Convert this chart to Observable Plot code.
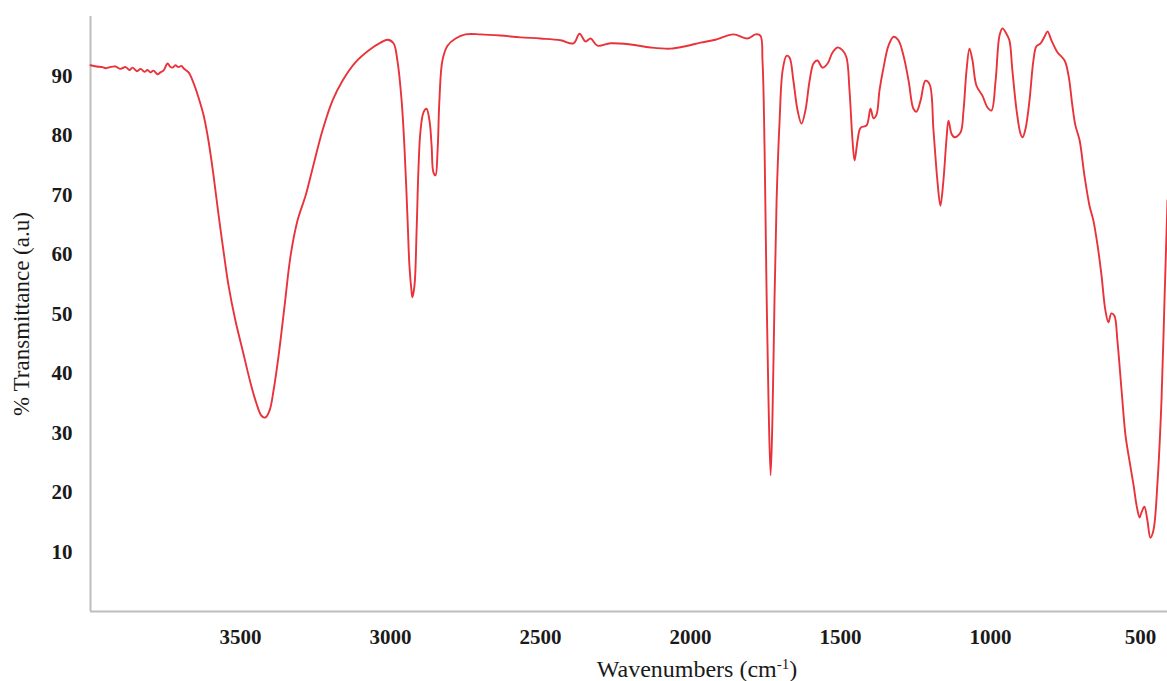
<!DOCTYPE html>
<html>
<head>
<meta charset="utf-8">
<script src="https://cdn.jsdelivr.net/npm/d3@7"></script>
<script src="https://cdn.jsdelivr.net/npm/@observablehq/plot@0.6"></script>
<style>
  html, body { margin: 0; padding: 0; background: #fff; }
  #chart { position: relative; width: 1167px; height: 681px; overflow: hidden; }
</style>
</head>
<body>
<div id="chart"></div>
<script>
// FTIR spectrum: wavenumber (cm-1) and % transmittance
const wavenumber = [4000,3980,3960,3950,3935,3917,3900,3883,3870,3860,3845,3833,3820,3810,3800,3790,3777,3767,3757,3743,3735,3727,3717,3707,3697,3690,3673,3657,3640,3623,3607,3590,3573,3557,3540,3517,3493,3467,3447,3430,3417,3403,3390,3373,3353,3333,3310,3283,3257,3227,3193,3160,3117,3073,3033,3010,2990,2977,2963,2953,2943,2937,2930,2927,2920,2913,2907,2900,2890,2880,2870,2863,2857,2850,2843,2837,2827,2810,2783,2750,2700,2633,2567,2500,2433,2390,2370,2350,2333,2310,2267,2200,2133,2067,2017,1967,1917,1857,1810,1783,1767,1760,1753,1747,1740,1733,1727,1720,1713,1703,1693,1680,1670,1657,1643,1630,1617,1603,1590,1577,1560,1543,1527,1510,1493,1480,1470,1460,1453,1443,1433,1413,1400,1390,1380,1370,1357,1340,1323,1307,1290,1273,1257,1247,1233,1217,1203,1190,1177,1167,1157,1147,1140,1130,1120,1100,1090,1080,1070,1060,1047,1027,1010,997,983,970,960,947,937,927,913,900,893,883,870,857,847,833,820,810,797,777,753,740,727,717,703,687,670,657,643,630,617,607,597,587,577,563,550,537,523,513,503,497,487,477,467,457,443,430,420,410];
const transmittance = [91.8,91.6,91.5,91.3,91.5,91.6,91.2,91.5,91.0,91.4,90.8,91.2,90.7,91.0,90.6,90.9,90.3,90.6,90.9,92.1,91.6,91.4,91.8,91.5,91.7,91.3,90.6,88.9,86.4,83.4,79.2,73.3,66.6,60.7,54.8,48.9,43.9,38.5,35.0,32.9,32.6,33.8,37.1,43.0,51.4,59.8,65.7,69.9,75.0,80.8,85.9,89.2,92.3,94.3,95.6,96.1,95.5,92.6,85.9,77.5,65.7,58.2,53.9,52.8,54.8,64.0,74.1,80.8,83.9,84.5,82.5,78.3,73.8,73.3,77.5,85.9,92.6,95.1,96.3,97.0,97.0,96.8,96.5,96.3,96.0,95.5,97.1,95.8,96.3,95.1,95.5,95.3,94.8,94.6,95.0,95.6,96.1,97.0,96.3,97.0,96.8,92.6,77.5,55.6,35.5,22.9,32.1,52.3,69.1,82.5,90.9,93.4,93.1,89.2,84.2,82.0,84.2,89.2,92.1,92.6,91.4,92.1,93.9,94.8,94.3,93.1,87.6,79.2,75.8,79.2,81.3,81.7,84.5,82.9,83.5,87.6,91.3,95.1,96.6,96.0,93.4,89.2,84.5,84.0,85.9,89.2,88.6,80.8,72.4,68.2,72.4,79.2,82.5,80.3,79.7,80.5,84.2,90.9,94.6,92.6,88.4,86.7,84.7,84.2,89.2,96.8,98.0,97.1,96.0,90.9,84.2,80.3,79.7,81.2,85.9,92.6,95.0,95.5,96.6,97.5,96.0,94.0,92.6,90.1,85.0,81.7,79.2,73.3,68.2,65.7,61.5,56.5,50.6,48.6,50.1,49.7,45.5,37.1,29.6,25.4,21.2,17.8,15.8,16.6,17.6,15.3,12.4,13.6,22.0,35.5,52.3,69.1];
const xTicks = [3500, 3000, 2500, 2000, 1500, 1000, 500];
const yTicks = [10, 20, 30, 40, 50, 60, 70, 80, 90];
const xTitle = "Wavenumbers (cm";
const xTitleSup = "-1";
const yTitle = "% Transmittance (a.u)";

const data = wavenumber.map((w, i) => ({w, t: transmittance[i]}));

const chart = Plot.plot({
  width: 1167,
  height: 681,
  marginLeft: 90,
  marginRight: 0,
  marginTop: 16,
  marginBottom: 70,
  style: {fontFamily: "'Liberation Serif', 'Times New Roman', serif", fontSize: "21px", fontWeight: "bold", color: "#1a1a1a", background: "#fff"},
  x: {domain: [4000, 410], ticks: xTicks, tickSize: 0, tickPadding: 18, tickFormat: d => String(d), label: null},
  y: {domain: [0, 100], ticks: yTicks, tickSize: 0, tickPadding: 18, tickFormat: d => String(d), label: null},
  marks: [
    Plot.ruleX([4000], {stroke: "#bdbdbd", strokeWidth: 2}),
    Plot.ruleY([0], {stroke: "#bdbdbd", strokeWidth: 2}),
    Plot.line(data, {x: "w", y: "t", stroke: "#e9333b", strokeWidth: 1.9, curve: "catmull-rom"})
  ]
});

document.getElementById("chart").appendChild(chart);

const svg = d3.select(chart);
const xt = svg.append("text")
  .attr("x", 697).attr("y", 677)
  .attr("text-anchor", "middle")
  .style("font-family", "'Liberation Serif', 'Times New Roman', serif")
  .style("font-size", "24px").style("font-weight", "normal").attr("fill", "#1a1a1a");
xt.append("tspan").text(xTitle);
xt.append("tspan").attr("baseline-shift", "super").style("font-size", "15px").text(xTitleSup);
xt.append("tspan").text(")");

svg.append("text")
  .attr("transform", "translate(29,314) rotate(-90)")
  .attr("text-anchor", "middle")
  .style("font-family", "'Liberation Serif', 'Times New Roman', serif")
  .style("font-size", "23px").style("font-weight", "normal").attr("fill", "#1a1a1a")
  .text(yTitle);
</script>
</body>
</html>
